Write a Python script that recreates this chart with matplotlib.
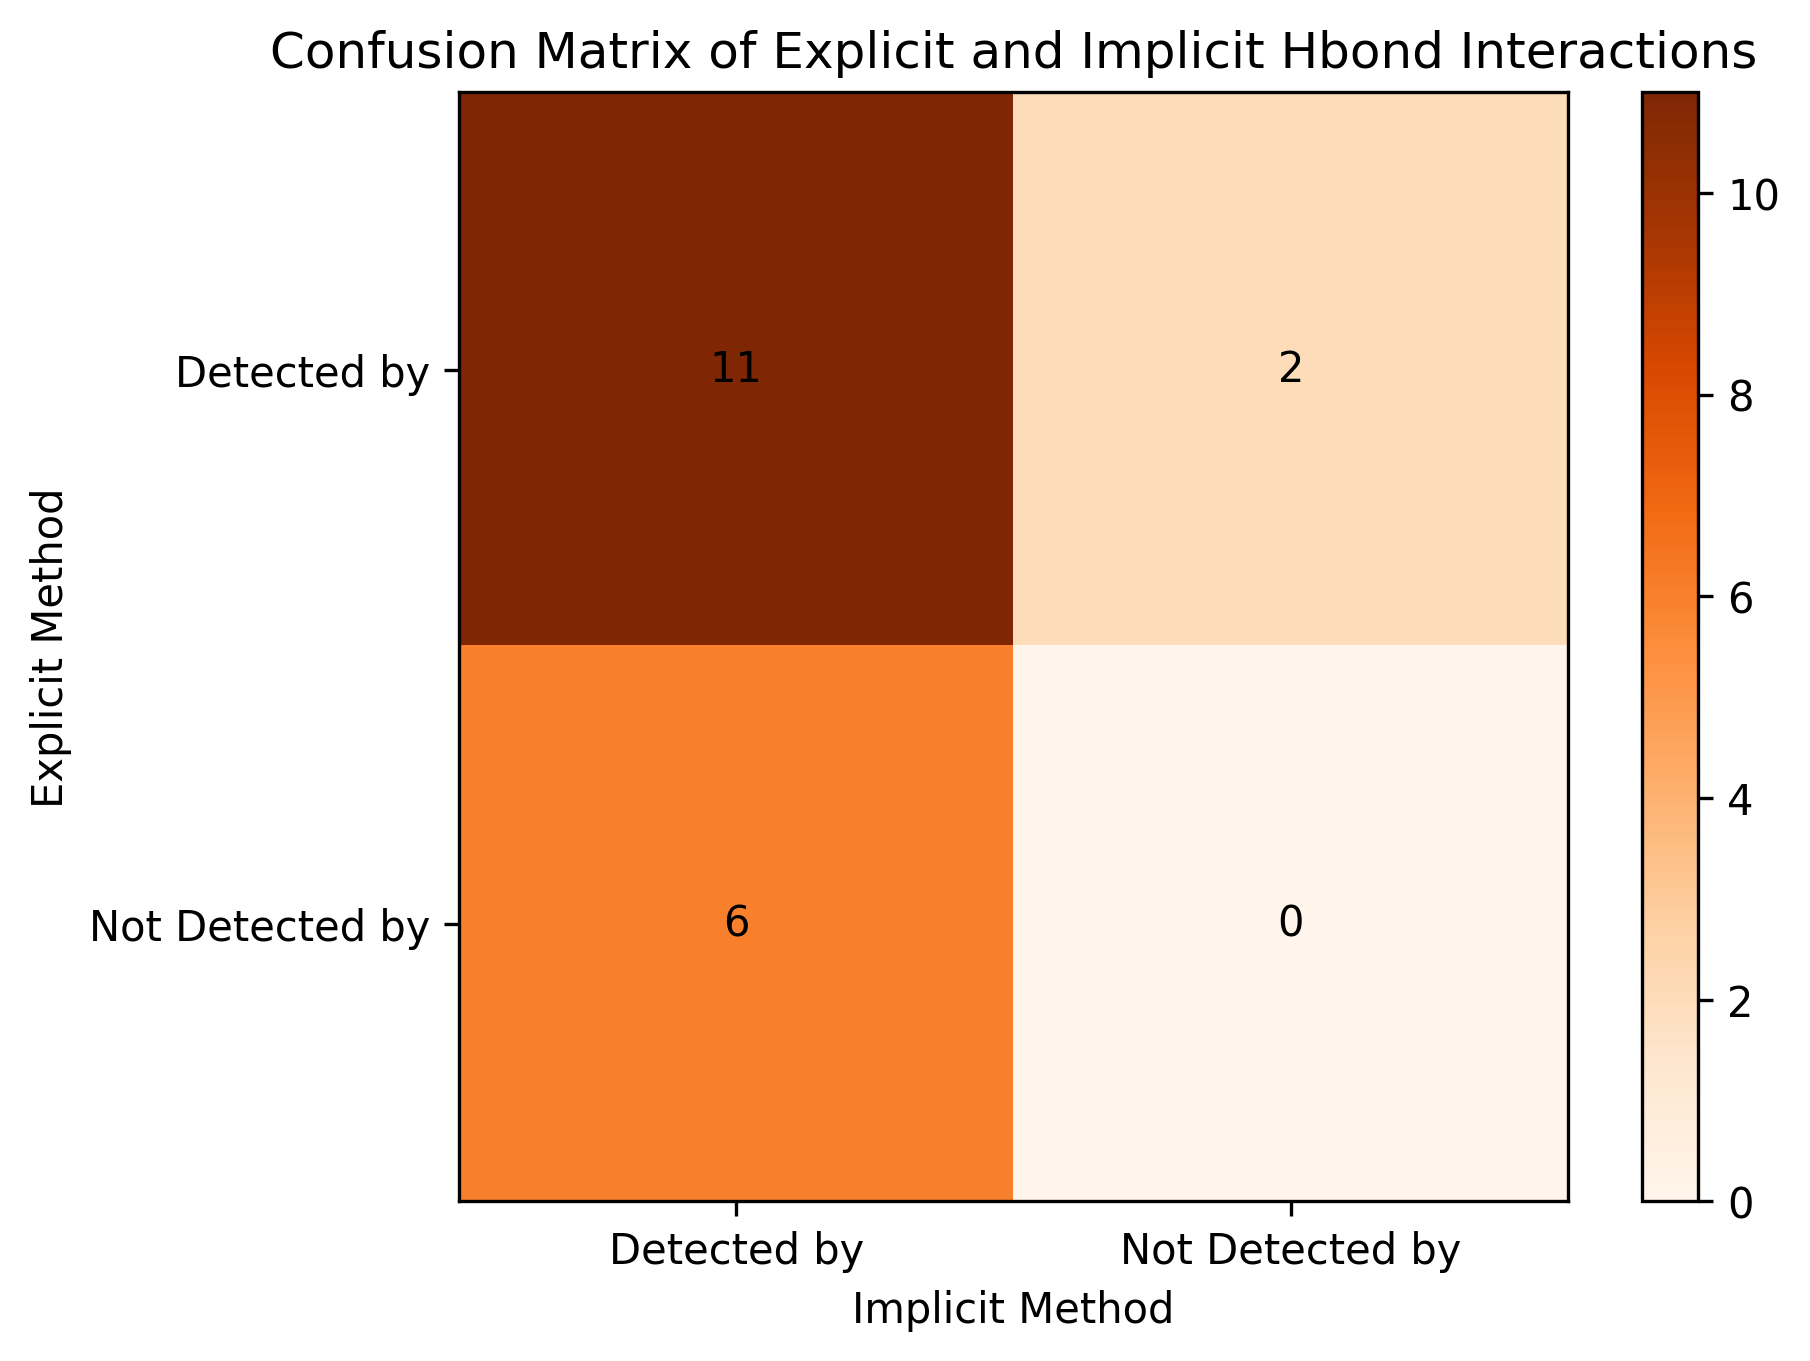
import numpy as np
import matplotlib.pyplot as plt

# confusion matrix values: rows = explicit, cols = implicit
row_labels = ['Detected by', 'Not Detected by']
col_labels = ['Detected by', 'Not Detected by']
counts = np.array([[11, 2],
                   [6, 0]])

fig, ax = plt.subplots()
im = ax.imshow(counts, cmap='Oranges')
fig.colorbar(im, ax=ax)

ax.set_xticks(np.arange(len(col_labels)))
ax.set_xticklabels(col_labels)
ax.set_yticks(np.arange(len(row_labels)))
ax.set_yticklabels(row_labels)

for i in range(counts.shape[0]):
    for j in range(counts.shape[1]):
        ax.text(j, i, str(counts[i, j]), ha='center', va='center', color='black')

ax.set_title('Confusion Matrix of Explicit and Implicit Hbond Interactions')
ax.set_xlabel('Implicit Method')
ax.set_ylabel('Explicit Method')

plt.savefig('out.png', dpi=300, bbox_inches='tight')
